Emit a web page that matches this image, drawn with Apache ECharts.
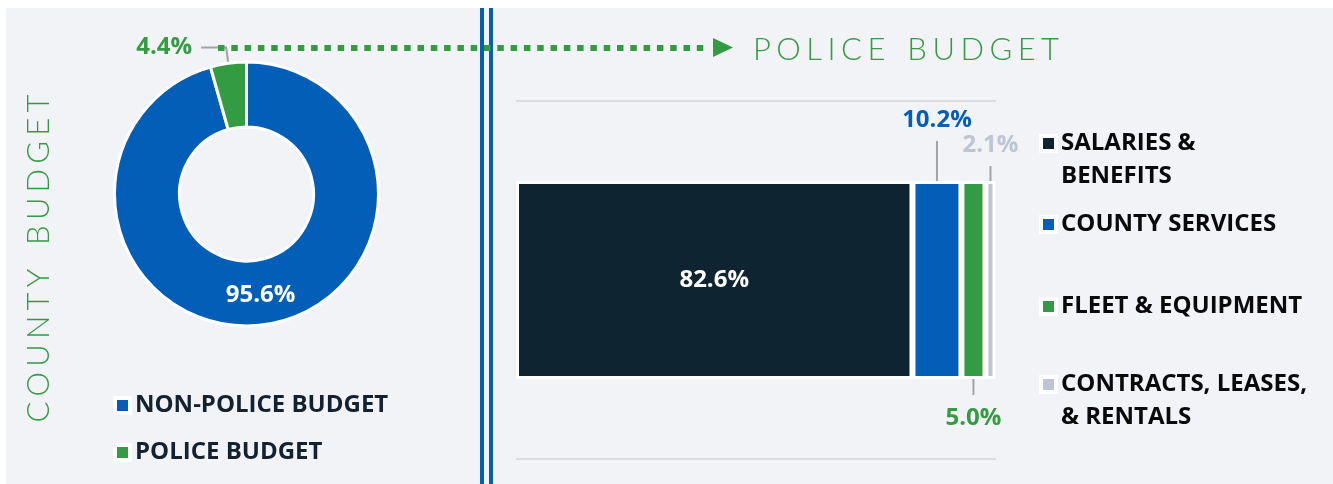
<!DOCTYPE html>
<html><head><meta charset="utf-8">
<script src="https://cdn.jsdelivr.net/npm/echarts@6/dist/echarts.min.js"></script>
<style>html,body{margin:0;padding:0;background:#fff}#c{width:1333px;height:484px}</style>
</head><body><div id="c"></div>
<script>
// ---- data ----
const countyNames = ['NON-POLICE BUDGET', 'POLICE BUDGET'];
const countyValues = [95.6, 4.4];
const policeNames = ['SALARIES &\nBENEFITS', 'COUNTY SERVICES', 'FLEET & EQUIPMENT', 'CONTRACTS, LEASES,\n& RENTALS'];
const policeValues = [82.6, 10.2, 5.0, 2.1];
const barCategories = ['POLICE BUDGET'];
const leftTitle = 'COUNTY BUDGET';
const rightTitle = 'POLICE BUDGET';

// ---- styles ----
const NAVY = '#0f2431', BLUE = '#035eb7', GREEN = '#339c42', GREY = '#bdc4d3';
const TITLE_GREEN = '#359c44';
const countyColors = [BLUE, GREEN];
const policeColors = [NAVY, BLUE, GREEN, GREY];
const LABEL_FONT = '"Open Sans", "Noto Sans", sans-serif';
const TITLE_FAMILY = 'Lato, "Open Sans", sans-serif';
const TITLE_SIZE = 31, TITLE_WEIGHT = 300;
const pct = p => Number(p.value).toFixed(1) + '%';

// letter-spaced title built from rich-text tokens
function spacedTitle(text, targetWidth, wordGap) {
  const ctx = document.createElement('canvas').getContext('2d');
  ctx.font = TITLE_WEIGHT + ' ' + TITLE_SIZE + 'px ' + TITLE_FAMILY;
  const chars = text.split('');
  const letters = chars.filter(c => c !== ' ');
  const sum = letters.reduce((a, c) => a + ctx.measureText(c).width, 0);
  const p = Math.max(0, (targetWidth - sum - wordGap) / (letters.length - 2));
  const base = {fontFamily: TITLE_FAMILY, fontSize: TITLE_SIZE, fontWeight: TITLE_WEIGHT, fill: TITLE_GREEN};
  return {
    text: chars.map(c => c === ' ' ? '{w| }' : '{l|' + c + '}').join(''),
    rich: {
      l: Object.assign({}, base, {padding: [0, p, 0, 0]}),
      w: Object.assign({}, base, {width: Math.max(0, wordGap - p)})
    }
  };
}

const chart = echarts.init(document.getElementById('c'), null, {renderer: 'canvas'});

// bar label placement (offsets from each segment)
const barLabelCfg = [
  {position: 'inside', color: '#fff'},
  {color: BLUE, above: true, off: 40, pad: [0, 0, 9, 0]},
  {color: GREEN, above: false, off: 16, pad: [11, 0, 0, 0]},
  {color: GREY, above: true, off: 15, pad: [0, 0, 9, 0]}
];

const barSeries = policeNames.map((n, i) => {
  const c = barLabelCfg[i];
  const s = {
    name: n, type: 'bar', stack: 'police', barWidth: 198,
    data: [policeValues[i]],
    itemStyle: {color: policeColors[i], borderColor: '#fff', borderWidth: 3},
    label: {
      show: true, formatter: pct, position: c.position || 'top',
      color: c.color, fontFamily: LABEL_FONT, fontWeight: 'bold', fontSize: 24
    },
    emphasis: {disabled: true}
  };
  if (i > 0) {
    s.label.padding = c.pad;
    s.label.backgroundColor = 'rgba(0,0,0,0)';
    s.labelLine = {show: true, lineStyle: {color: '#a3a3a3', width: 2}};
    s.labelLayout = p => c.above
      ? {x: p.rect.x + p.rect.width / 2, y: p.rect.y - c.off, align: 'center', verticalAlign: 'bottom'}
      : {x: p.rect.x + p.rect.width / 2, y: p.rect.y + p.rect.height + c.off, align: 'center', verticalAlign: 'top'};
  }
  return s;
});

const legendText = {fontFamily: LABEL_FONT, fontWeight: 'bold', fontSize: 24, color: '#0a0a0a', lineHeight: 33};
const rightLegendTops = [94, 208, 290, 335];
const rightLegends = policeNames.map((n, i) => {
  const twoLine = n.indexOf('\n') >= 0;
  return {
    data: [n], orient: 'vertical', left: 1039, top: rightLegendTops[i], padding: 0,
    icon: 'rect', itemWidth: 15, itemHeight: 15,
    itemStyle: {borderColor: '#fff', borderWidth: 4},
    selectedMode: false,
    formatter: twoLine ? '\n{name}' : '{name}',
    textStyle: legendText
  };
});

const leftT = spacedTitle(leftTitle, 328, 24);
const rightT = spacedTitle(rightTitle, 306, 22);

const option = {
  animation: false,
  backgroundColor: '#fff',
  grid: {left: 516, top: 101, width: 480, height: 358},
  xAxis: {type: 'value', min: 0, max: 100, show: false},
  yAxis: {
    type: 'category', data: barCategories,
    axisLine: {show: false}, axisTick: {show: false}, axisLabel: {show: false},
    splitLine: {show: true, lineStyle: {color: '#d9dbdf', width: 2}}
  },
  legend: [
    {
      data: countyNames, orient: 'vertical', left: 113, top: 389, padding: 0,
      icon: 'rect', itemWidth: 15, itemHeight: 15, itemGap: 14,
      itemStyle: {borderColor: '#fff', borderWidth: 4},
      selectedMode: false,
      textStyle: Object.assign({}, legendText, {color: '#13222e'})
    }
  ].concat(rightLegends),
  graphic: [
    {type: 'rect', z: -100, shape: {x: 6, y: 8, width: 1327, height: 476}, style: {fill: '#f2f3f7'}},
    {type: 'rect', z: -90, shape: {x: 480, y: 8, width: 4, height: 476}, style: {fill: BLUE}},
    {type: 'rect', z: -90, shape: {x: 489, y: 8, width: 4, height: 476}, style: {fill: BLUE}},
    {type: 'line', z: 5, shape: {x1: 218, y1: 48, x2: 708, y2: 48}, style: {stroke: GREEN, lineWidth: 6, lineDash: [6.5, 6.8]}},
    {type: 'polygon', z: 5, shape: {points: [[713, 38], [733, 47.5], [713, 57]]}, style: {fill: GREEN}},
    {type: 'text', z: 5, x: 753, y: 50, style: {text: rightT.text, rich: rightT.rich, fontFamily: TITLE_FAMILY, fontSize: TITLE_SIZE, fontWeight: TITLE_WEIGHT, fill: TITLE_GREEN, verticalAlign: 'middle', align: 'left'}},
    {type: 'text', z: 5, x: 39, y: 256, rotation: Math.PI / 2, style: {text: leftT.text, rich: leftT.rich, fontFamily: TITLE_FAMILY, fontSize: TITLE_SIZE, fontWeight: TITLE_WEIGHT, fill: TITLE_GREEN, verticalAlign: 'middle', align: 'center'}}
  ],
  series: [
    {
      type: 'pie', center: [246.5, 194], radius: [67, 132], startAngle: 90, clockwise: true,
      avoidLabelOverlap: false,
      itemStyle: {borderColor: '#fff', borderWidth: 3},
      emphasis: {disabled: true},
      labelLine: {show: false},
      data: countyNames.map((n, i) => ({
        name: n, value: countyValues[i], itemStyle: {color: countyColors[i]},
        label: i === 0
          ? {show: true, position: 'inside', formatter: pct, color: '#fff', fontFamily: LABEL_FONT, fontWeight: 'bold', fontSize: 24}
          : {show: true, position: 'outside', formatter: pct, color: GREEN, fontFamily: LABEL_FONT, fontWeight: 'bold', fontSize: 24, distanceToLabelLine: 9},
        labelLine: i === 0 ? {show: false} : {show: true, length: 16, length2: 25, lineStyle: {color: '#a3a3a3', width: 2}}
      }))
    }
  ].concat(barSeries)
};
chart.setOption(option);
</script></body></html>
